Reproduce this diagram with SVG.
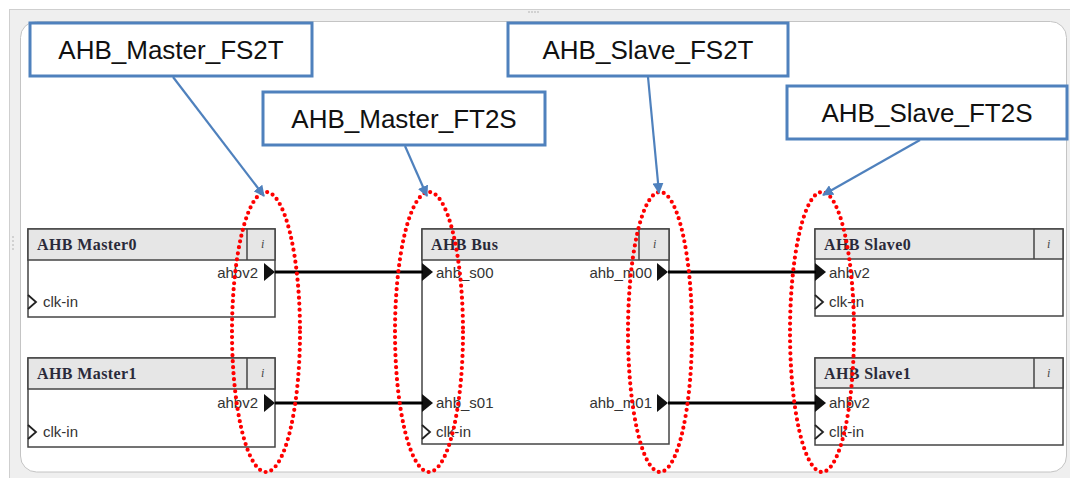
<svg xmlns="http://www.w3.org/2000/svg" width="1070" height="478" viewBox="0 0 1070 478">
<defs>
<marker id="ah" markerWidth="11" markerHeight="11" refX="10" refY="5.5" orient="auto" markerUnits="userSpaceOnUse">
<path d="M0,0 L11,5.5 L0,11 z" fill="#4f81bd"/>
</marker>
<style>
.blk{fill:#fff;stroke:#444;stroke-width:1.5}
.hdr{fill:#e6e6e6;stroke:#444;stroke-width:1.5}
.ttl{font-family:"Liberation Serif",serif;font-weight:bold;font-size:16px;letter-spacing:0.4px;fill:#2a2a3a}
.inf{font-family:"Liberation Serif",serif;font-style:italic;font-size:12px;fill:#444}
.prt{font-family:"Liberation Sans",Arial,sans-serif;font-size:15px;fill:#333}
.tri{fill:#111}
.clk{fill:none;stroke:#222;stroke-width:1.8}
.wire{stroke:#000;stroke-width:3;fill:none}
.oval{fill:none;stroke:#ff0000;stroke-width:4.2;stroke-linecap:round;stroke-dasharray:0 6}
.cbox{fill:#fff;stroke:#4f81bd;stroke-width:3}
.ctxt{font-family:"Liberation Sans",Arial,sans-serif;font-size:26px;fill:#111;text-anchor:middle}
.carr{stroke:#4f81bd;stroke-width:2.2;fill:none;marker-end:url(#ah)}
</style>
</defs>
<rect x="0" y="0" width="1070" height="478" fill="#fff"/>
<g id="frame">
<rect x="9.5" y="9.5" width="1070" height="475" fill="#efefef" stroke="#cfcfcf"/>
<rect x="20.5" y="21.5" width="1046" height="450.5" rx="16" fill="#fff" stroke="#c4c4c4"/>
<g fill="#aaa"><circle cx="529" cy="12" r="0.8"/><circle cx="532" cy="12" r="0.8"/><circle cx="535" cy="12" r="0.8"/><circle cx="538" cy="12" r="0.8"/>
<circle cx="13" cy="237" r="0.8"/><circle cx="13" cy="241" r="0.8"/><circle cx="13" cy="245" r="0.8"/><circle cx="13" cy="249" r="0.8"/></g>
</g>
<g id="master0">
<rect class="blk" x="28" y="229" width="247" height="88"/>
<rect class="hdr" x="28" y="229" width="247" height="31"/>
<line x1="247" y1="229" x2="247" y2="260" stroke="#444" stroke-width="1.5"/>
<text class="ttl" x="37" y="250">AHB Master0</text>
<text class="inf" x="261" y="248">i</text>
<text class="prt" x="258" y="278" text-anchor="end">ahbv2</text>
<path class="tri" d="M264,263 L275,272 L264,281 z"/>
<polyline class="clk" points="28,295 36,302 28,309"/>
<text class="prt" x="43" y="307">clk-in</text>
</g>
<g id="master1">
<rect class="blk" x="28" y="358" width="247" height="89"/>
<rect class="hdr" x="28" y="358" width="247" height="31"/>
<line x1="247" y1="358" x2="247" y2="389" stroke="#444" stroke-width="1.5"/>
<text class="ttl" x="37" y="379">AHB Master1</text>
<text class="inf" x="261" y="377">i</text>
<text class="prt" x="258" y="408" text-anchor="end">ahbv2</text>
<path class="tri" d="M264,394 L275,403 L264,412 z"/>
<polyline class="clk" points="28,425 36,432 28,439"/>
<text class="prt" x="43" y="437">clk-in</text>
</g>
<g id="bus">
<rect class="blk" x="422" y="229" width="247" height="215"/>
<rect class="hdr" x="422" y="229" width="247" height="31"/>
<line x1="639" y1="229" x2="639" y2="260" stroke="#444" stroke-width="1.5"/>
<text class="ttl" x="431" y="250">AHB Bus</text>
<text class="inf" x="653" y="248">i</text>
<path class="tri" d="M422,263 L433,272 L422,281 z"/>
<text class="prt" x="436" y="278">ahb_s00</text>
<path class="tri" d="M657,263 L668,272 L657,281 z"/>
<text class="prt" x="652" y="278" text-anchor="end">ahb_m00</text>
<path class="tri" d="M422,394 L433,403 L422,412 z"/>
<text class="prt" x="436" y="408">ahb_s01</text>
<path class="tri" d="M657,394 L668,403 L657,412 z"/>
<text class="prt" x="652" y="408" text-anchor="end">ahb_m01</text>
<polyline class="clk" points="422,425 430,432 422,439"/>
<text class="prt" x="436" y="437">clk-in</text>
</g>
<g id="slave0">
<rect class="blk" x="815" y="229" width="248" height="87"/>
<rect class="hdr" x="815" y="229" width="248" height="30"/>
<line x1="1034" y1="229" x2="1034" y2="259" stroke="#444" stroke-width="1.5"/>
<text class="ttl" x="824" y="250">AHB Slave0</text>
<text class="inf" x="1047" y="248">i</text>
<path class="tri" d="M815,263 L826,272 L815,281 z"/>
<text class="prt" x="829" y="278">ahbv2</text>
<polyline class="clk" points="815,295 823,302 815,309"/>
<text class="prt" x="829" y="307">clk-in</text>
</g>
<g id="slave1">
<rect class="blk" x="815" y="358" width="248" height="87"/>
<rect class="hdr" x="815" y="358" width="248" height="30"/>
<line x1="1034" y1="358" x2="1034" y2="388" stroke="#444" stroke-width="1.5"/>
<text class="ttl" x="824" y="379">AHB Slave1</text>
<text class="inf" x="1047" y="377">i</text>
<path class="tri" d="M815,394 L826,403 L815,412 z"/>
<text class="prt" x="829" y="408">ahbv2</text>
<polyline class="clk" points="815,425 823,432 815,439"/>
<text class="prt" x="829" y="437">clk-in</text>
</g>
<g id="connectors">
<line class="wire" x1="275" y1="272" x2="423" y2="272"/>
<line class="wire" x1="275" y1="403" x2="423" y2="403"/>
<line class="wire" x1="668" y1="272" x2="816" y2="272"/>
<line class="wire" x1="668" y1="403" x2="816" y2="403"/>
</g>
<g id="ovals">
<ellipse class="oval" cx="266" cy="332" rx="34" ry="140"/>
<ellipse class="oval" cx="429" cy="332" rx="34" ry="140"/>
<ellipse class="oval" cx="660" cy="332" rx="32" ry="140"/>
<ellipse class="oval" cx="822" cy="332" rx="32" ry="140"/>
</g>
<g id="callout-master-fs2t">
<rect class="cbox" x="30" y="23" width="282" height="53"/>
<text class="ctxt" x="171" y="59">AHB_Master_FS2T</text>
</g>
<g id="callout-master-ft2s">
<rect class="cbox" x="263" y="92" width="282" height="53"/>
<text class="ctxt" x="404" y="128">AHB_Master_FT2S</text>
</g>
<g id="callout-slave-fs2t">
<rect class="cbox" x="508" y="23" width="280" height="53"/>
<text class="ctxt" x="648" y="59">AHB_Slave_FS2T</text>
</g>
<g id="callout-slave-ft2s">
<rect class="cbox" x="787" y="86" width="280" height="53"/>
<text class="ctxt" x="927" y="122">AHB_Slave_FT2S</text>
</g>
<g id="callout-arrows">
<line class="carr" x1="173" y1="77" x2="264" y2="196"/>
<line class="carr" x1="405" y1="146" x2="427" y2="196"/>
<line class="carr" x1="648" y1="77" x2="659" y2="193"/>
<line class="carr" x1="920" y1="140" x2="823" y2="195"/>
</g>
</svg>
